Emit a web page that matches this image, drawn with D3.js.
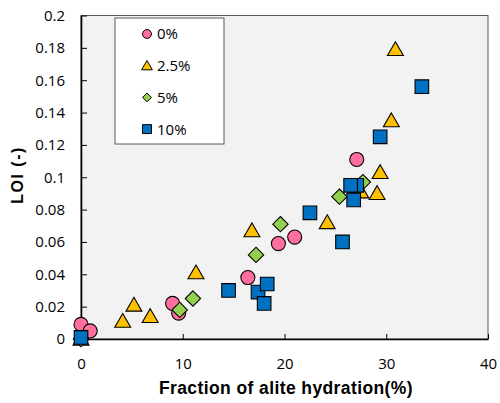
<!DOCTYPE html>
<html>
<head>
<meta charset="utf-8">
<script src="https://cdn.jsdelivr.net/npm/d3@7"></script>
<style>
  html, body { margin: 0; padding: 0; background: #fff; }
  svg { display: block; }
  .tick text { font-family: "Open Sans", "Noto Sans", sans-serif; font-size: 15px; fill: #000; }
</style>
</head>
<body>
<svg id="chart" width="500" height="403"></svg>
<script>
// Loss on ignition vs. fraction of alite hydration, per replacement level
const seriesNames = ["0%", "2.5%", "5%", "10%"];

const hydration0   = [0, 0.9, 9.0, 9.6, 16.4, 19.4, 21.0, 27.1];
const loi0         = [0.009, 0.005, 0.022, 0.016, 0.038, 0.059, 0.063, 0.111];

const hydration25  = [0, 4.1, 5.2, 6.8, 11.3, 16.8, 24.2, 27.5, 29.1, 29.4, 30.5, 30.9];
const loi25        = [0, 0.011, 0.021, 0.014, 0.041, 0.067, 0.072, 0.091, 0.090, 0.103, 0.135, 0.179];

const hydration5   = [0, 9.7, 11.0, 17.2, 19.6, 25.4, 27.7];
const loi5         = [0, 0.018, 0.025, 0.052, 0.071, 0.088, 0.097];

const hydration10  = [0, 14.5, 17.4, 18.3, 18.0, 22.5, 25.7, 27.1, 26.5, 26.8, 29.4, 33.5];
const loi10        = [0.001, 0.030, 0.029, 0.034, 0.022, 0.078, 0.060, 0.095, 0.095, 0.086, 0.125, 0.156];

const xTicks = [0, 10, 20, 30, 40];
const yTicks = [0, 0.02, 0.04, 0.06, 0.08, 0.1, 0.12, 0.14, 0.16, 0.18, 0.2];

const xTitle = "Fraction of alite hydration(%)";
const yTitle = "LOI (-)";

const svg = d3.select("#chart");
const plotLeft = 81, plotRight = 488, plotTop = 15.5, plotBottom = 339;

const x = d3.scaleLinear().domain([0, 40]).range([plotLeft, plotRight]);
const y = d3.scaleLinear().domain([0, 0.2]).range([plotBottom, plotTop]);

// plot area
svg.append("rect")
  .attr("x", plotLeft).attr("y", plotTop)
  .attr("width", plotRight - plotLeft).attr("height", plotBottom - plotTop)
  .attr("fill", "#f2f2f2")
  .attr("stroke", "#595959").attr("stroke-width", 1);

// axes with inward ticks
const fmtY = d => d === 0 ? "0" : String(+d.toFixed(2));
const yAxis = svg.append("g").attr("transform", `translate(${plotLeft},0)`)
  .call(d3.axisLeft(y).tickValues(yTicks).tickFormat(fmtY).tickSizeInner(-6).tickSizeOuter(0).tickPadding(16));
const xAxis = svg.append("g").attr("transform", `translate(0,${plotBottom})`)
  .call(d3.axisBottom(x).tickValues(xTicks).tickFormat(d3.format("d")).tickSizeInner(-5).tickSizeOuter(0).tickPadding(19));
[yAxis, xAxis].forEach(g => {
  g.select(".domain").attr("stroke", "#000").attr("stroke-width", 1.6);
  g.selectAll(".tick line").attr("stroke", "#000").attr("stroke-width", 1);
});

// marker shapes
const colors = ["#ff6f9e", "#ffc000", "#92d050", "#0070c0"];
const symbols = [d3.symbolCircle, d3.symbolTriangle, d3.symbolDiamond2, d3.symbolSquare];
const sizes = [155, 110, 150, 185];
const legendSizes = [62, 50, 50, 80];

const series = [
  d3.zip(hydration0, loi0),
  d3.zip(hydration25, loi25),
  d3.zip(hydration5, loi5),
  d3.zip(hydration10, loi10)
];

series.forEach((pts, i) => {
  const sym = d3.symbol().type(symbols[i]).size(sizes[i]);
  svg.append("g").selectAll("path").data(pts).join("path")
    .attr("d", sym)
    .attr("transform", d => `translate(${x(d[0])},${y(d[1]) + (i === 1 ? 1.5 : 0)})`)
    .attr("fill", colors[i])
    .attr("stroke", "#000").attr("stroke-width", 1.1);
});

// legend
const lg = svg.append("g");
lg.append("rect").attr("x", 115).attr("y", 18).attr("width", 109).attr("height", 126)
  .attr("fill", "#fff").attr("stroke", "#595959").attr("stroke-width", 1);
seriesNames.forEach((name, i) => {
  const cy = 34 + i * 31.7;
  lg.append("path")
    .attr("d", d3.symbol().type(symbols[i]).size(legendSizes[i]))
    .attr("transform", `translate(147,${cy + (i === 1 ? 1 : 0)})`)
    .attr("fill", colors[i]).attr("stroke", "#000").attr("stroke-width", 1);
  lg.append("text").attr("x", 157).attr("y", cy).attr("dy", "0.36em")
    .attr("font-family", "'Open Sans', 'Noto Sans', sans-serif").attr("font-size", 15)
    .text(name);
});

// axis titles
svg.append("text")
  .attr("x", 286).attr("y", 394)
  .attr("text-anchor", "middle")
  .attr("font-family", "'Liberation Sans', Arial, sans-serif").attr("font-weight", "bold")
  .attr("font-size", 17.5).attr("letter-spacing", 0.4)
  .text(xTitle);
svg.append("text")
  .attr("transform", `translate(22.5,175) rotate(-90)`)
  .attr("text-anchor", "middle")
  .attr("font-family", "'Liberation Sans', Arial, sans-serif").attr("font-weight", "bold")
  .attr("font-size", 16).attr("letter-spacing", 1.5)
  .text(yTitle);
</script>
</body>
</html>
